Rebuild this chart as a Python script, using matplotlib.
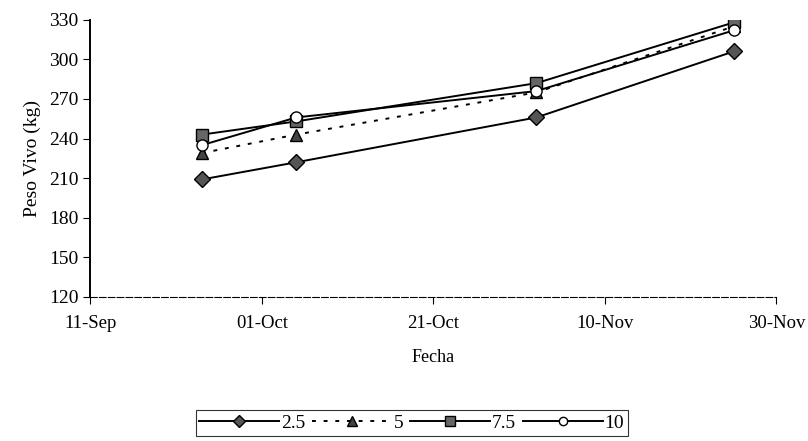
import numpy as np
import pandas as pd
import matplotlib.pyplot as plt
import matplotlib.dates as mdates

plt.rcParams['font.family'] = ['Liberation Serif', 'DejaVu Serif']

# fechas de pesaje y peso vivo por tratamiento
fechas = pd.to_datetime(['2001-09-24', '2001-10-05', '2001-11-02', '2001-11-25'])
peso_25 = [209, 222, 256, 306]
peso_5 = [229, 243, 275, 325]
peso_75 = [243, 253, 282, 328]
peso_10 = [235, 256, 276, 322]

fig = plt.figure(figsize=(8.08, 4.41), dpi=100)
ax = fig.add_axes([0.112, 0.327, 0.849, 0.628])

ax.plot(fechas, peso_25, color='black', lw=1.4, marker='D', ms=8,
        mfc='#555555', mec='black', label='2.5')
ax.plot(fechas, peso_5, color='black', lw=1.4, ls=(0, (2, 4)), marker='^', ms=9,
        mfc='#444444', mec='black', label='5')
ax.plot(fechas, peso_75, color='black', lw=1.4, marker='s', ms=9,
        mfc='#666666', mec='black', label='7.5')
ax.plot(fechas, peso_10, color='black', lw=1.4, marker='o', ms=8,
        mfc='white', mec='black', label='10')

ax.set_ylim(120, 330)
ax.set_yticks(np.arange(120, 331, 30))
ax.set_xlim(pd.Timestamp('2001-09-11'), pd.Timestamp('2001-11-30'))
ax.set_xticks(pd.to_datetime(['2001-09-11', '2001-10-01', '2001-10-21',
                              '2001-11-10', '2001-11-30']))
ax.xaxis.set_major_formatter(mdates.DateFormatter('%d-%b'))

for s in ['top', 'right']:
    ax.spines[s].set_visible(False)
ax.spines['left'].set_linewidth(1.4)
ax.spines['bottom'].set_linewidth(0.8)
ax.spines['bottom'].set_linestyle((0, (6, 2)))
ax.tick_params(axis='y', labelsize=14, length=5, width=0.8)
ax.tick_params(axis='x', labelsize=13.5, length=5, width=0.8, pad=8)

ax.set_xlabel('Fecha', fontsize=13, labelpad=12)
ax.set_ylabel('Peso Vivo (kg)', fontsize=14, labelpad=6)

leg = fig.legend(loc='lower left', bbox_to_anchor=(0.23, -0.01),
                 ncol=4, frameon=True, fancybox=False, edgecolor='black',
                 fontsize=14, handlelength=4.1, columnspacing=0.35,
                 handletextpad=0.1, borderpad=0.2, markerscale=0.75)
leg.get_frame().set_linewidth(0.8)

plt.savefig('out.png', dpi=100)
